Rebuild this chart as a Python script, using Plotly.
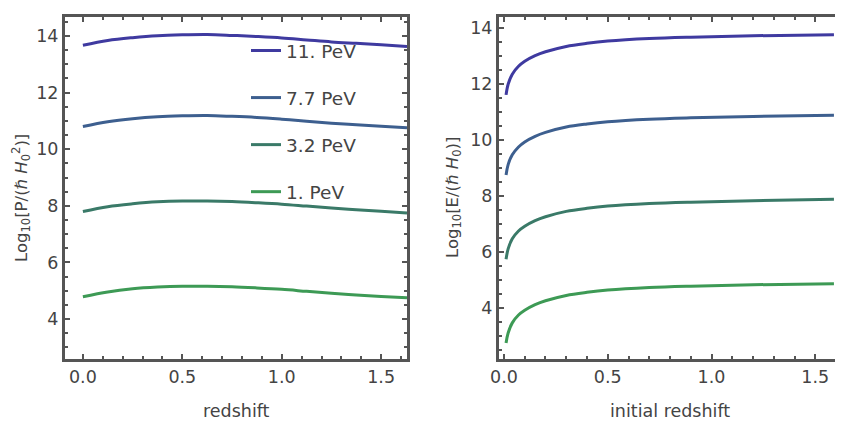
import plotly.graph_objects as go

# left panel: power vs redshift
z_left = [0.0, 0.125, 0.25, 0.375, 0.5, 0.625, 0.75, 0.875, 1.0, 1.125, 1.25, 1.375, 1.5, 1.63]
p_11 = [13.67, 13.84, 13.94, 14.01, 14.04, 14.05, 14.02, 13.98, 13.93, 13.86, 13.79, 13.74, 13.69, 13.63]
p_77 = [10.80, 10.97, 11.08, 11.15, 11.18, 11.19, 11.16, 11.12, 11.06, 10.99, 10.92, 10.86, 10.81, 10.76]
p_32 = [7.80, 7.97, 8.07, 8.14, 8.17, 8.17, 8.15, 8.11, 8.06, 7.99, 7.92, 7.86, 7.81, 7.75]
p_1 = [4.79, 4.96, 5.07, 5.13, 5.16, 5.16, 5.14, 5.10, 5.05, 4.98, 4.91, 4.85, 4.80, 4.75]

# right panel: energy vs initial redshift
z_right = [0.01, 0.02, 0.04, 0.07, 0.1, 0.15, 0.2, 0.3, 0.4, 0.5, 0.7, 0.9, 1.2, 1.59]
e_11 = [11.62, 12.00, 12.36, 12.64, 12.82, 13.02, 13.16, 13.35, 13.46, 13.54, 13.63, 13.68, 13.73, 13.77]
e_77 = [8.76, 9.13, 9.48, 9.76, 9.94, 10.14, 10.28, 10.47, 10.58, 10.66, 10.75, 10.80, 10.85, 10.89]
e_32 = [5.75, 6.12, 6.48, 6.76, 6.93, 7.13, 7.27, 7.46, 7.57, 7.65, 7.74, 7.79, 7.84, 7.89]
e_1 = [2.76, 3.12, 3.48, 3.76, 3.93, 4.13, 4.27, 4.46, 4.57, 4.65, 4.74, 4.79, 4.84, 4.88]

labels = ["11. PeV", "7.7 PeV", "3.2 PeV", "1. PeV"]
colors = ["#3f3aa0", "#3d5f8f", "#3a7a68", "#3d9a55"]

# page body has an 8px margin, so work in screen pixels minus that
OFF = 8
W, H = 843 - OFF, 440 - OFF


def px(v):
    return (v - OFF) / W


def py(v):
    return 1 - (v - OFF) / H


fig = go.Figure()
for lab, col, yl, yr in zip(labels, colors, [p_11, p_77, p_32, p_1], [e_11, e_77, e_32, e_1]):
    fig.add_trace(go.Scatter(x=z_left, y=yl, mode="lines", name=lab, legendgroup=lab,
                             line=dict(color=col, width=3, shape="spline"), xaxis="x", yaxis="y"))
    fig.add_trace(go.Scatter(x=z_right, y=yr, mode="lines", name=lab, legendgroup=lab, showlegend=False,
                             line=dict(color=col, width=3, shape="spline"), xaxis="x2", yaxis="y2"))

font = dict(family="DejaVu Sans, sans-serif", size=17.5, color="#444444")
legfont = dict(family="DejaVu Sans, sans-serif", size=18.5, color="#444444")
yfont = dict(family="DejaVu Sans, sans-serif", size=16.5, color="#444444")
frame = "#555555"


def ax(rng, dtick, mdtick, domain, anchor):
    return dict(range=rng, domain=domain, anchor=anchor, dtick=dtick, tick0=0,
                showline=True, linewidth=3, linecolor=frame, mirror="allticks",
                ticks="inside", ticklen=5, tickwidth=2, tickcolor=frame,
                minor=dict(dtick=mdtick, ticks="inside", ticklen=3, tickwidth=1.5, tickcolor=frame),
                showgrid=False, zeroline=False, tickfont=font, automargin=False)


xa = ax([-0.09, 1.63], 0.5, 0.1, [px(65), px(407)], "y")
xa["tickformat"] = ".1f"
ya = ax([2.59, 14.67], 2, 0.5, [py(359), py(17)], "x")
xa2 = ax([-0.024, 1.624], 0.5, 0.1, [px(499), px(841)], "y2")
xa2["tickformat"] = ".1f"
ya2 = ax([2.19, 14.4], 2, 0.5, [py(359), py(17)], "x2")

fig.update_layout(
    width=W, height=H,
    margin=dict(l=0, r=0, t=0, b=0),
    paper_bgcolor="white", plot_bgcolor="white",
    font=font,
    xaxis=xa, yaxis=ya, xaxis2=xa2, yaxis2=ya2,
    showlegend=True,
    legend=dict(x=px(246), y=py(32), xanchor="left", yanchor="top",
                bgcolor="rgba(0,0,0,0)", font=legfont, tracegroupgap=20,
                traceorder="grouped"),
    annotations=[
        dict(text="redshift", x=px(236), y=py(411), xref="paper", yref="paper",
             xanchor="center", yanchor="middle", showarrow=False, font=font),
        dict(text="initial redshift", x=px(670), y=py(411), xref="paper", yref="paper",
             xanchor="center", yanchor="middle", showarrow=False, font=font),
        dict(text="Log<sub>10</sub>[P/(<i>ℏ H</i><sub>0</sub><sup>2</sup>)]", x=px(21), y=py(198),
             xref="paper", yref="paper", xanchor="center", yanchor="middle",
             showarrow=False, textangle=-90, font=yfont),
        dict(text="Log<sub>10</sub>[E/(<i>ℏ H</i><sub>0</sub>)]", x=px(453), y=py(198),
             xref="paper", yref="paper", xanchor="center", yanchor="middle",
             showarrow=False, textangle=-90, font=yfont),
    ],
)

fig.write_html("out.html")
